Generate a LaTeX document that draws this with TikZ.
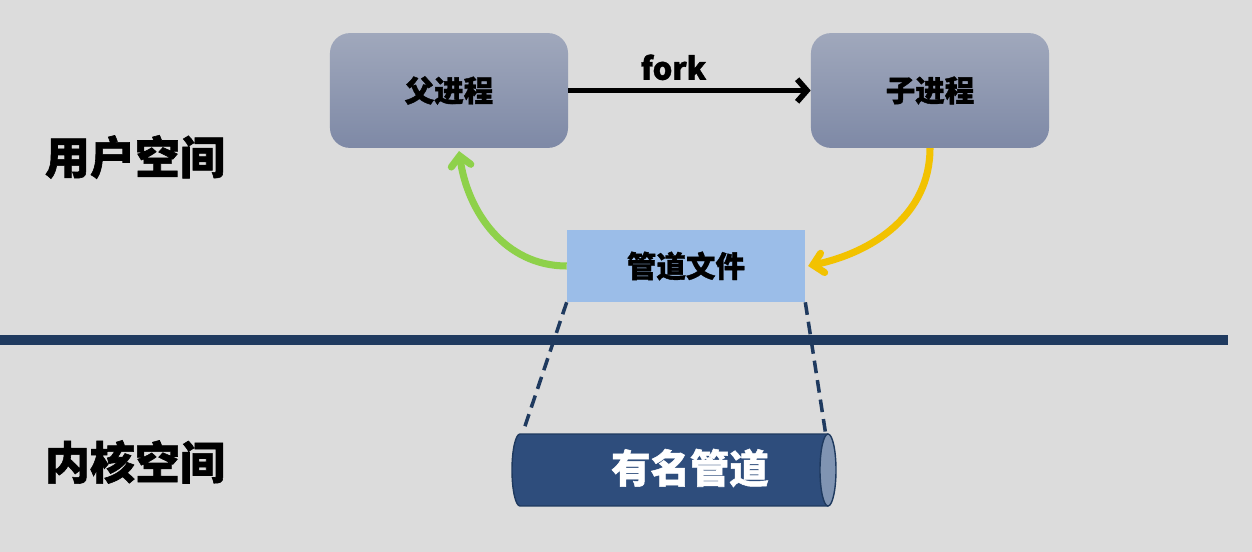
\documentclass[tikz,border=0pt]{standalone}
\usepackage{fontspec}
\newfontfamily\cjk{Noto Sans CJK SC}[BoldFeatures={FakeBold=1.3}]
\usetikzlibrary{arrows.meta}
\definecolor{bgGrey}{HTML}{DCDCDC}
\definecolor{procTop}{HTML}{A0A8BC}
\definecolor{procBot}{HTML}{7E89A6}
\definecolor{fileBlue}{HTML}{9BBDE8}
\definecolor{navy}{HTML}{1F3A5F}
\definecolor{pipeBody}{HTML}{2E4D7C}
\definecolor{pipeEnd}{HTML}{8094B2}
\definecolor{arrowGreen}{HTML}{8ED14A}
\definecolor{arrowYellow}{HTML}{F2C200}
\begin{document}
\begin{tikzpicture}[x=0.025cm,y=-0.025cm,
		procbox/.style={rounded corners=0.5cm,top color=procTop,bottom color=procBot,
			minimum width=5.95cm,minimum height=2.87cm,inner sep=0pt,
			font=\cjk\fontsize{21pt}{21pt}\selectfont\bfseries},
		spacelabel/.style={anchor=west,font=\cjk\fontsize{32pt}{32pt}\selectfont\bfseries},
		curved/.style={line width=5pt,-{Straight Barb[length=7pt,width=14pt,line cap=round]}}]
		
		\fill [bgGrey] (0,0) rectangle (1252,552);
		\useasboundingbox (0,0) rectangle (1252,552);
		
		% user space
		\node [procbox] (parent) at (449,90.5) {父进程};
		\node [procbox] (child) at (930,90.5) {子进程};
		\draw [line width=4pt,-{Straight Barb[length=7pt,width=16pt]}] (parent.east) -- (child.west)
			node [midway,above=2pt,xshift=-0.4cm,font=\cjk\fontsize{22pt}{22pt}\selectfont\bfseries] (forklbl) {fork};
		
		\node [fill=fileBlue,minimum width=5.95cm,minimum height=1.8cm,inner sep=0pt,
			font=\cjk\fontsize{21pt}{21pt}\selectfont\bfseries] (file) at (686,266) {管道文件};
		
		\draw [curved,arrowGreen] (file.west) to[out=180,in=-82] ([xshift=0.25cm,yshift=-2pt]parent.south);
		\draw [curved,arrowYellow] (child.south) to[out=-90,in=12] ([xshift=2pt]file.east);
		
		\node [spacelabel] (userlbl) at (40,157) {用户空间};
		
		% separator
		\draw [navy,line width=7pt] (0,340) -- (1228,340);
		
		% kernel space
		\node [spacelabel] (kernlbl) at (40,462) {内核空间};
		
		% named pipe as a cylinder
		\fill [pipeBody] (520,434) rectangle (828,506);
		\fill [pipeBody] (520,470) ellipse [x radius=8,y radius=36];
		\draw [navy,line width=1pt] (828,434) -- (520,434) arc [start angle=-90,end angle=-270,x radius=8,y radius=36] -- (828,506);
		\filldraw [fill=pipeEnd,draw=navy,line width=1pt] (828,470) ellipse [x radius=8,y radius=36];
		\node [text=white,font=\cjk\fontsize{28pt}{28pt}\selectfont\bfseries] (pipe) at (690,468) {有名管道};
		
		\coordinate (pipeL) at (523,432);
		\coordinate (pipeR) at (826,436);
		\draw [navy,line width=2.5pt,dash pattern=on 9pt off 5pt] (file.south west) -- (pipeL);
		\draw [navy,line width=2.5pt,dash pattern=on 9pt off 5pt] (file.south east) -- (pipeR);
		
	\end{tikzpicture}
\end{document}
